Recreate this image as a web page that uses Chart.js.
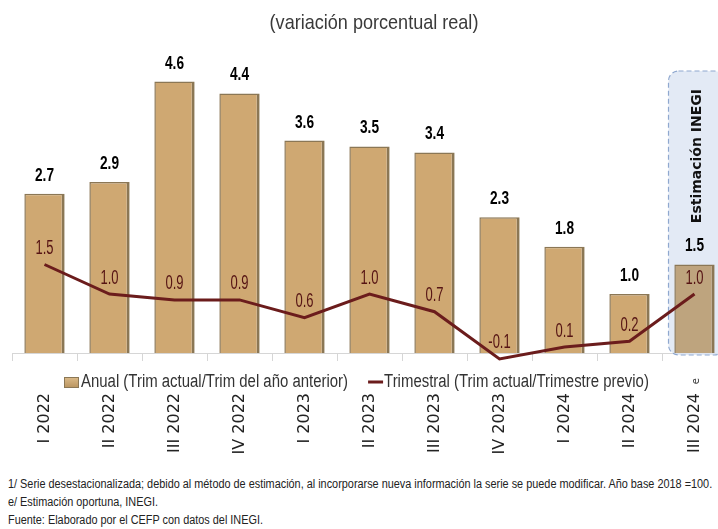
<!DOCTYPE html>
<html>
<head>
<meta charset="utf-8">
<script src="https://cdn.jsdelivr.net/npm/chart.js@4.4.1/dist/chart.umd.min.js"></script>
<style>
  html, body { margin: 0; padding: 0; background: #fff; overflow: hidden; width: 718px; height: 529px; }
  #wrap { position: relative; width: 728px; height: 470px; }
  .note { position: absolute; left: 8px; font-family: 'Liberation Sans', Arial, sans-serif; font-size: 12.5px; color: #222; white-space: nowrap; transform-origin: 0 0; }
</style>
</head>
<body>
<div id="wrap"><canvas id="pibChart" width="728" height="470"></canvas></div>
<div class="note" style="top:477px">1/ Serie desestacionalizada; debido al método de estimación, al incorporarse nueva información la serie se puede modificar. Año base 2018 =100.</div>
<div class="note" style="top:495px">e/ Estimación oportuna, INEGI.</div>
<div class="note" style="top:513px">Fuente: Elaborado por el CEFP con datos del INEGI.</div>
<script>
// Datos
const categories = ['I 2022', 'II 2022', 'III 2022', 'IV 2022', 'I 2023', 'II 2023', 'III 2023', 'IV 2023', 'I 2024', 'II 2024', 'III 2024'];
const anual = [2.7, 2.9, 4.6, 4.4, 3.6, 3.5, 3.4, 2.3, 1.8, 1.0, 1.5];
const trimestral = [1.5, 1.0, 0.9, 0.9, 0.6, 1.0, 0.7, -0.1, 0.1, 0.2, 1.0];
const estimateLabel = 'III 2024';

const SANS = "'Liberation Sans', Arial, sans-serif";
const BAR_COLOR = '#cfa872';
const BAR_EST_COLOR = '#bea47e';
const LINE_COLOR = '#6b1c1c';

const estIndex = categories.indexOf(estimateLabel);

// texto comprimido horizontalmente (la fuente original es estrecha)
const narrowText = (ctx, text, x, y, sx, align = 'center') => {
  ctx.save();
  ctx.translate(x, y);
  ctx.scale(sx, 1);
  ctx.textAlign = align;
  ctx.fillText(text, 0, 0);
  ctx.restore();
};

// Caja punteada "Estimación INEGI" detrás de la última barra
const estimateBox = {
  id: 'estimateBox',
  beforeDatasetsDraw(chart) {
    const {ctx, chartArea, scales: {x}} = chart;
    const cx = x.getPixelForValue(estIndex);
    const left = cx - 26, right = cx + 30;
    const top = chartArea.top + 13, bottom = chartArea.bottom + 2;
    ctx.save();
    ctx.beginPath();
    ctx.roundRect(left, top, right - left, bottom - top, 10);
    ctx.fillStyle = 'rgba(222, 230, 243, 0.85)';
    ctx.fill();
    ctx.setLineDash([5, 3]);
    ctx.lineWidth = 1.2;
    ctx.strokeStyle = '#8fa8cf';
    ctx.stroke();
    ctx.setLineDash([]);
    ctx.translate(cx + 3, top + 18);
    ctx.rotate(-Math.PI / 2);
    ctx.font = "bold 14px 'DejaVu Sans', sans-serif";
    ctx.fillStyle = '#111';
    ctx.textAlign = 'right';
    ctx.textBaseline = 'middle';
    ctx.fillText('Estimación INEGI', 0, 0);
    ctx.restore();
  }
};

// Etiquetas de valores
const valueLabels = {
  id: 'valueLabels',
  afterDatasetsDraw(chart) {
    const {ctx} = chart;
    ctx.save();
    ctx.textBaseline = 'middle';
    chart.getDatasetMeta(0).data.forEach((bar, i) => {
      ctx.font = 'bold 18px ' + SANS;
      ctx.fillStyle = '#000';
      narrowText(ctx, anual[i].toFixed(1), bar.x, bar.y - 18, 0.76);
    });
    chart.getDatasetMeta(1).data.forEach((pt, i) => {
      ctx.font = '20px ' + SANS;
      ctx.fillStyle = '#561414';
      narrowText(ctx, trimestral[i].toFixed(1), pt.x, pt.y - 16, 0.65);
    });
    ctx.restore();
  }
};

// Título, leyenda entre el eje y las etiquetas, y la "e" de estimación
const textRow = {
  id: 'textRow',
  afterDraw(chart) {
    const {ctx, scales: {x}} = chart;
    ctx.save();
    ctx.textBaseline = 'middle';
    ctx.font = '21px ' + SANS;
    ctx.fillStyle = '#3a3a3a';
    narrowText(ctx, '(variación porcentual real)', 374, 23, 0.86);

    const y = x.top + 29;
    const sx = 0.83;
    ctx.font = '18px ' + SANS;
    const grad = ctx.createLinearGradient(0, y - 5, 0, y + 6);
    grad.addColorStop(0, '#dcbb8a');
    grad.addColorStop(1, '#b8935e');
    ctx.fillStyle = grad;
    ctx.fillRect(64, y - 5, 15, 11);
    ctx.strokeStyle = '#8b7755';
    ctx.lineWidth = 1;
    ctx.strokeRect(64.5, y - 4.5, 14, 10);
    const t1 = chart.data.datasets[0].label;
    ctx.fillStyle = '#333';
    narrowText(ctx, t1, 81, y, sx, 'left');
    const x2 = 81 + ctx.measureText(t1).width * sx + 20;
    ctx.strokeStyle = LINE_COLOR;
    ctx.lineWidth = 3;
    ctx.beginPath();
    ctx.moveTo(x2, y);
    ctx.lineTo(x2 + 15, y);
    ctx.stroke();
    narrowText(ctx, chart.data.datasets[1].label, x2 + 16, y, sx, 'left');

    // superíndice "e"
    ctx.translate(x.getPixelForValue(estIndex) + 2, x.top + 25);
    ctx.rotate(-Math.PI / 2);
    ctx.font = "10px 'DejaVu Sans', sans-serif";
    ctx.textAlign = 'right';
    ctx.fillStyle = '#333';
    ctx.fillText('e', 0, 0);
    ctx.restore();
  }
};

new Chart(document.getElementById('pibChart'), {
  type: 'bar',
  data: {
    labels: categories,
    datasets: [{
      type: 'bar',
      label: 'Anual (Trim actual/Trim del año anterior)',
      data: anual,
      backgroundColor: categories.map((c, i) => i === estIndex ? BAR_EST_COLOR : BAR_COLOR),
      borderColor: '#8b7755',
      borderWidth: {left: 1.5, right: 3, top: 1.5, bottom: 0},
      borderSkipped: false,
      barPercentage: 0.62,
      categoryPercentage: 1.0,
      order: 2,
    }, {
      type: 'line',
      label: 'Trimestral (Trim actual/Trimestre previo)',
      data: trimestral,
      borderColor: LINE_COLOR,
      borderWidth: 3,
      pointRadius: 0,
      tension: 0,
      clip: false,
      order: 1,
    }],
  },
  options: {
    responsive: false,
    animation: false,
    devicePixelRatio: 1,
    layout: {padding: {left: 12, right: 1, top: 58, bottom: 0}},
    plugins: {
      legend: {display: false},
      tooltip: {enabled: false},
      title: {display: false},
    },
    scales: {
      x: {
        grid: {display: true, drawOnChartArea: false, tickLength: 8, color: '#d6d6d6', offset: true},
        border: {color: '#d6d6d6'},
        ticks: {
          minRotation: 90,
          maxRotation: 90,
          padding: 32,
          color: '#222',
          font: {family: "'DejaVu Sans', sans-serif", size: 16},
        },
        afterFit: (scale) => {
          scale.height = 117;
          scale.paddingLeft = 0;
          scale.paddingRight = 0;
        },
      },
      y: {
        display: false,
        min: 0,
        max: 5,
      },
    },
  },
  plugins: [estimateBox, valueLabels, textRow],
});

// ajustar notas al ancho del original
const notes = document.querySelectorAll('.note');
const k = 704 / notes[0].scrollWidth;
notes.forEach(n => { n.style.transform = 'scaleX(' + k + ')'; });
</script>
</body>
</html>
